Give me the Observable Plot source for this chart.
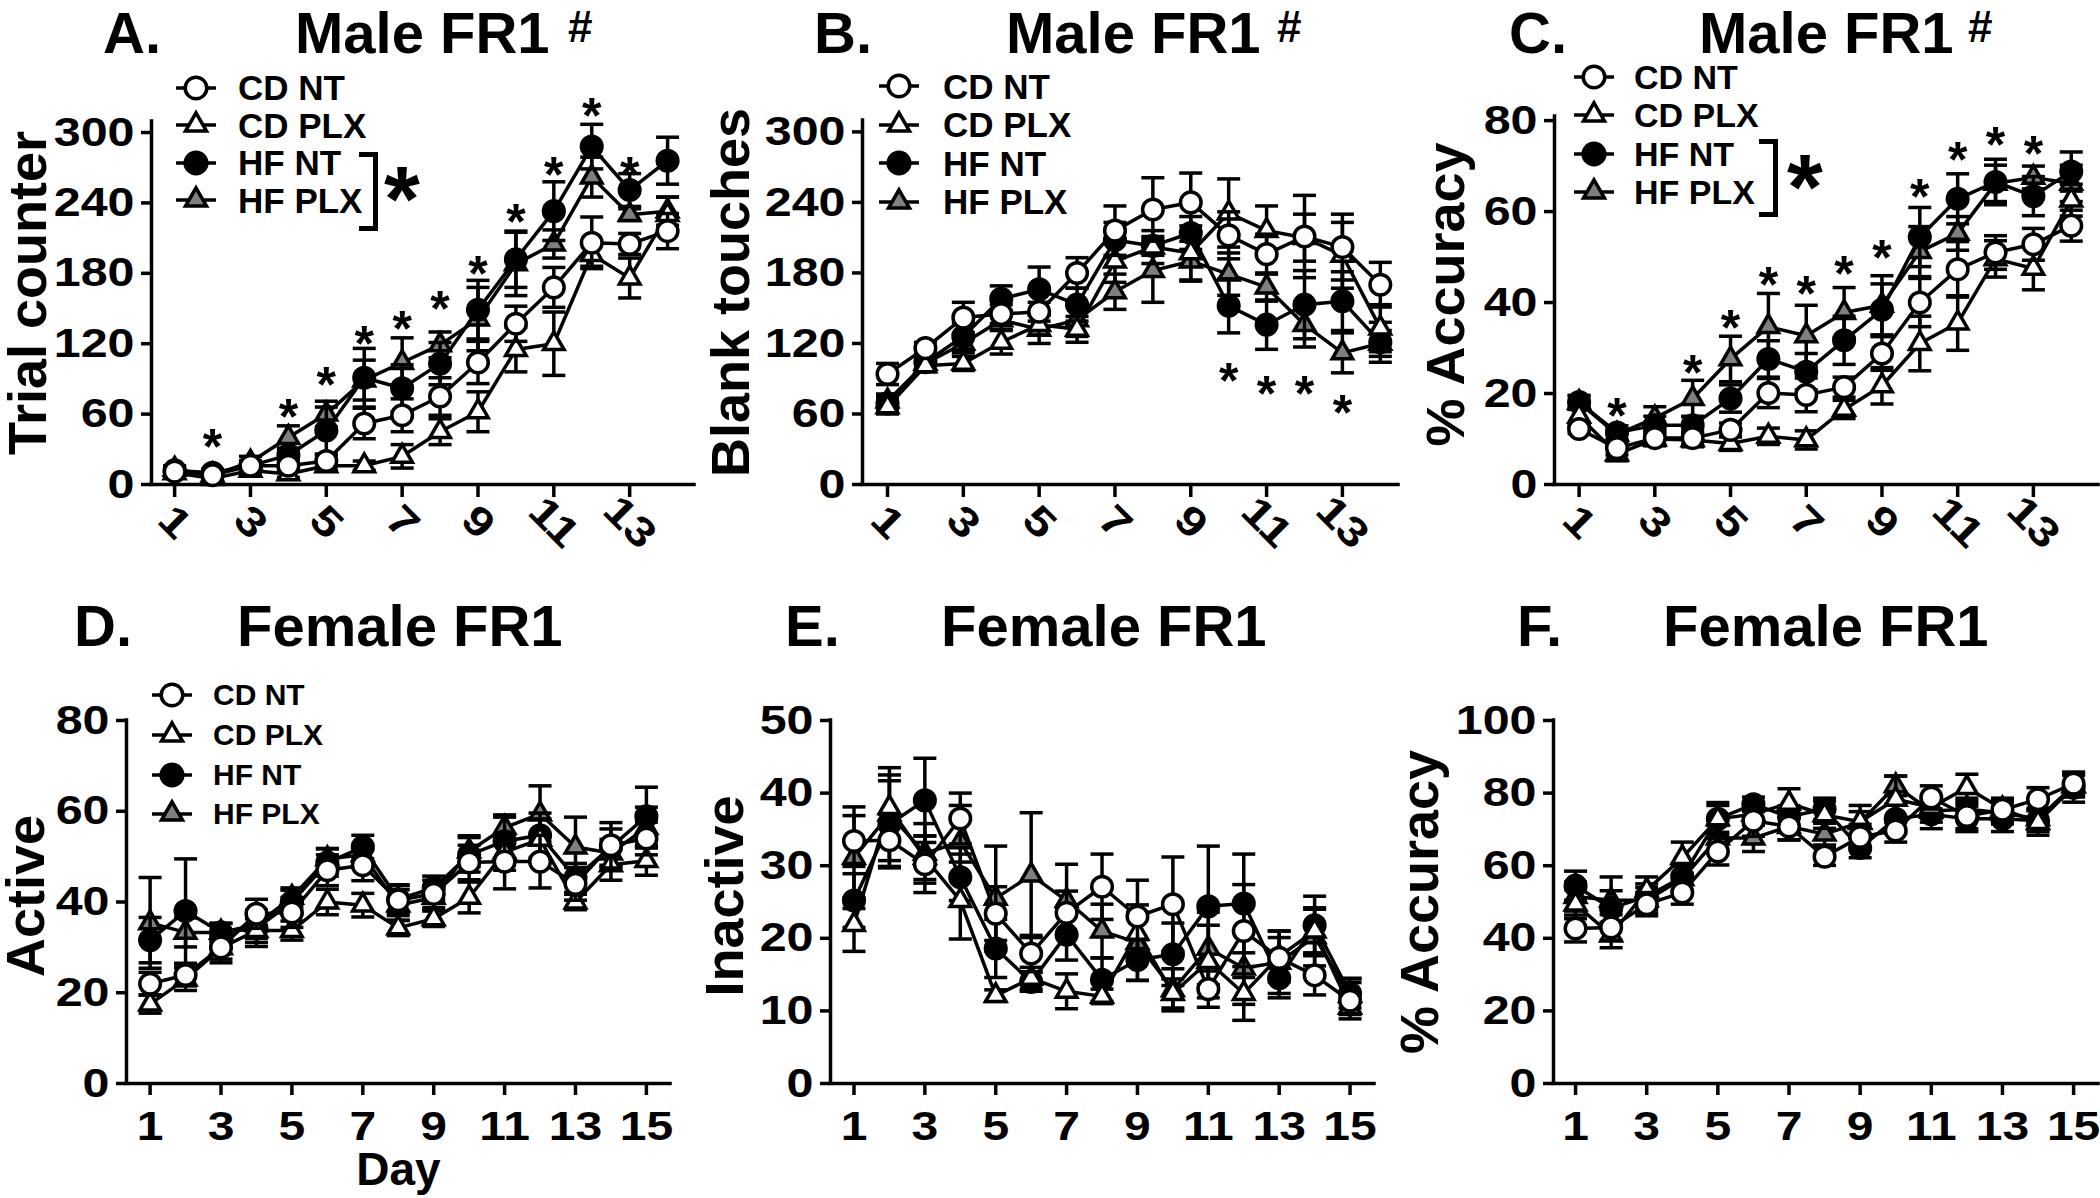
<!DOCTYPE html>
<html>
<head>
<meta charset="utf-8">
<script src="https://cdn.jsdelivr.net/npm/d3@7"></script>
<script src="https://cdn.jsdelivr.net/npm/@observablehq/plot@0.6"></script>
<style>
  body { margin: 0; background: #fff; }
  #fig { position: relative; width: 2100px; height: 1198px; background: #fff; overflow: hidden;
         font-family: "Liberation Sans", Arial, Helvetica, sans-serif; font-weight: bold; color: #000; }
  .abs { position: absolute; white-space: nowrap; }
  .panel { position: absolute; }
  .panel svg { overflow: visible; }
</style>
</head>
<body>
<div id="fig"></div>
<script>
// ---------- categories ----------
const groups = ["CD NT", "CD PLX", "HF NT", "HF PLX"];
const maleDays = [1, 2, 3, 4, 5, 6, 7, 8, 9, 10, 11, 12, 13, 14];
const femaleDays = [1, 2, 3, 4, 5, 6, 7, 8, 9, 10, 11, 12, 13, 14, 15];
const maleTickDays = [1, 3, 5, 7, 9, 11, 13];
const femaleTickDays = [1, 3, 5, 7, 9, 11, 13, 15];

// ---------- A. Male FR1: Trial counter (rows: CD NT, CD PLX, HF NT, HF PLX) ----------
const trialMean = [
  [11, 8, 16, 16, 20, 52, 59, 75, 104, 137, 168, 206, 205, 216],
  [10, 5, 12, 9, 16, 16, 24, 45, 62, 115, 120, 196, 176, 230],
  [12, 10, 16, 25, 46, 91, 82, 103, 149, 192, 233, 288, 251, 276],
  [13, 8, 19, 40, 60, 89, 104, 119, 141, 188, 205, 262, 230, 233]
];
const trialSem = [
  [3, 3, 4, 4, 5, 13, 14, 16, 18, 15, 17, 22, 9, 15],
  [2, 2, 3, 3, 4, 4, 10, 11, 17, 19, 27, 10, 17, 15],
  [3, 3, 4, 6, 20, 25, 20, 18, 25, 24, 25, 19, 14, 20],
  [3, 3, 5, 10, 11, 17, 21, 11, 27, 27, 12, 17, 5, 12]
];
const trialStars = [[2, 42], [4, 68], [5, 95], [6, 130], [7, 143], [8, 160], [9, 190], [10, 234], [11, 274], [12, 324], [13, 274]];

// ---------- B. Male FR1: Blank touches ----------
const blankMean = [
  [94, 116, 142, 145, 147, 180, 216, 234, 240, 212, 196, 211, 202, 170],
  [66, 101, 103, 121, 136, 132, 190, 202, 197, 231, 216, 210, 195, 133],
  [69, 104, 126, 158, 166, 153, 208, 203, 214, 152, 136, 153, 156, 121],
  [71, 103, 120, 140, 132, 140, 164, 182, 190, 179, 168, 136, 112, 120]
];
const blankSem = [
  [9, 5, 13, 8, 8, 13, 21, 27, 25, 20, 17, 35, 28, 19],
  [6, 5, 6, 10, 9, 11, 18, 14, 23, 29, 21, 20, 28, 20],
  [6, 6, 12, 11, 19, 14, 15, 8, 14, 23, 21, 29, 25, 17],
  [6, 5, 8, 8, 12, 14, 15, 27, 17, 18, 12, 19, 17, 11]
];
const blankStars = [[10, 98], [11, 87], [12, 87], [13, 71]];

// ---------- C. Male FR1: % Accuracy ----------
const maleAccMean = [
  [12.2, 8.0, 10.2, 10.2, 12.0, 20.1, 19.7, 21.4, 28.8, 40.0, 47.3, 51.0, 52.8, 56.9],
  [15, 6.7, 10, 9.8, 9, 10.6, 9.8, 16.5, 21.7, 31, 35.5, 49.6, 47.5, 62.5],
  [18.1, 11.4, 13, 13, 18.9, 27.6, 24.8, 31.7, 38.4, 54.4, 62.8, 66.5, 63.4, 68.8],
  [18, 11, 14.6, 18.9, 27.6, 34.7, 32.7, 37.8, 39.4, 51.2, 55.2, 66.2, 67.5, 66.2]
];
const maleAccSem = [
  [1, 1.5, 1.5, 1.5, 1.5, 3.2, 3.7, 2.2, 3.7, 5.3, 6.1, 3.7, 3.5, 3.4],
  [2, 1.5, 1.5, 1.5, 1.5, 1.8, 2, 2, 4, 6, 6, 4, 4.7, 3.5],
  [1.5, 1.5, 2, 2, 3, 4, 4, 5.3, 5.7, 6.5, 5.5, 5, 4.3, 4.3],
  [1.5, 1.5, 2.5, 4, 5, 7.3, 6.7, 5.5, 6.5, 5.5, 3.7, 4, 2.5, 4]
];
const maleAccStars = [[2, 17.7], [4, 27.2], [5, 37], [6, 46.5], [7, 44.5], [8, 48.9], [9, 52.4], [10, 65.8], [11, 74], [12, 77.2], [13, 75.3]];

// ---------- D. Female FR1: Active ----------
const activeMean = [
  [22, 23.9, 30, 37.4, 37.7, 47, 48.1, 40.4, 41.8, 48.7, 48.9, 48.9, 44, 52.5, 54],
  [17.5, 23, 29.9, 33.7, 33.7, 40, 39.3, 34.3, 36.3, 41, 51, 53.8, 40, 48.2, 49.1],
  [31.6, 38, 33.3, 34.2, 40, 48.7, 52.1, 40.6, 43.1, 50.4, 53.4, 54.7, 45.3, 52.1, 58.9],
  [35.4, 33.3, 33.3, 35, 41, 49.5, 50.4, 39.3, 41, 51.2, 56.4, 59.4, 52.1, 50.8, 56.4]
];
const activeSem = [
  [2.5, 2.4, 3.4, 3.2, 3.3, 3.4, 3.4, 3.4, 3, 3.8, 6, 5.8, 3.6, 5, 3.6],
  [2, 2.5, 2.5, 2.6, 2.1, 2.8, 2.6, 1.7, 1.7, 3.4, 4, 4.5, 1.7, 3.4, 3.2],
  [5, 11.5, 2, 4, 2.6, 3, 2.6, 3, 2.6, 3.8, 5.3, 4.9, 3.2, 4, 6.4],
  [10, 3.2, 2, 3, 2.1, 2.3, 2.3, 3.4, 2.6, 3.4, 2.8, 6.2, 6.6, 3, 4.5]
];

// ---------- E. Female FR1: Inactive ----------
const inactiveMean = [
  [33.4, 33.5, 30.2, 36.5, 23.4, 17.9, 23.5, 27.1, 23, 24.7, 13, 21, 17.3, 14.9, 11.4],
  [21.9, 38, 31.1, 25.2, 12.1, 14.5, 12.7, 12, 20.7, 12.4, 16.8, 12.4, 17.5, 21, 10.5],
  [25.2, 35.7, 39, 28.4, 18.6, 14, 20.5, 14.3, 17, 17.8, 24.4, 24.8, 14.5, 21.8, 12.4],
  [31.1, 37.1, 31.7, 33.3, 25.5, 28.7, 25.2, 21, 19.4, 12.9, 18.6, 15.9, 16.7, 20.2, 12.1]
];
const inactiveSem = [
  [3.5, 3.6, 3.9, 3.5, 3.7, 2.5, 3, 4.5, 5, 6.5, 2.5, 6.4, 2.8, 2.7, 2.5],
  [3.7, 4.5, 3, 5.3, 0.8, 1.5, 2.4, 1, 2.9, 2, 5, 3.7, 3.5, 3, 1],
  [3.7, 6, 5.8, 3.2, 4, 1.3, 3.5, 3, 2.8, 4.3, 8.3, 6.8, 2.7, 4, 2],
  [7, 6.4, 4.1, 5, 7.2, 8.6, 5, 3.7, 5.2, 2.9, 5, 5, 4.3, 4, 2.4]
];

// ---------- F. Female FR1: % Accuracy ----------
const femaleAccMean = [
  [42.7, 43, 49.4, 52.6, 63.9, 72.4, 70.8, 62.5, 67.9, 69.7, 78.8, 73.7, 75.4, 78.3, 82.6],
  [49.4, 40.9, 53.2, 62.2, 72.9, 74.2, 77.2, 74, 72.1, 78.3, 76.1, 81.5, 75.6, 71.9, 82],
  [54.5, 48.3, 51.5, 56.9, 72.9, 76.9, 73.5, 75.6, 64.9, 72.9, 74.2, 72.9, 72.9, 72.4, 81.5],
  [51.5, 50.5, 50.5, 56.4, 67.6, 67.6, 70.8, 68.7, 71.9, 82, 75, 75.6, 74.5, 72.9, 82]
];
const femaleAccSem = [
  [3.7, 3.5, 3.2, 3.2, 3.7, 4.3, 3.7, 2.4, 3.5, 3.2, 3.2, 3.5, 2.9, 3.2, 3.2],
  [4, 3.5, 3.7, 4.3, 4.5, 3, 4, 3.7, 4.5, 6.4, 3, 3.7, 3, 3.5, 3],
  [4, 4.8, 3.5, 3.7, 3.7, 2, 3, 3, 2.7, 4, 4, 3.5, 3.5, 3, 4],
  [4, 6.4, 3.5, 3.5, 3.5, 3.7, 3.7, 3, 3, 2.7, 3, 3, 3, 3, 3]
];

// ---------- tick labels ----------
const ticksTrial = [0, 60, 120, 180, 240, 300];
const ticksMaleAcc = [0, 20, 40, 60, 80];
const ticksActive = [0, 20, 40, 60, 80];
const ticksInactive = [0, 10, 20, 30, 40, 50];
const ticksFemaleAcc = [0, 20, 40, 60, 80, 100];

// ---------- styling ----------
const SW = 3.5;
const symbolOf = ["circle", "triangle", "circle", "triangle"];
const fillOf = ["white", "white", "black", "#7f7f7f"];
const drawOrder = [3, 2, 1, 0];
const capSymbol = {
  draw(context, size) {
    const w = Math.sqrt(size / Math.PI);
    context.moveTo(-w, 0);
    context.lineTo(w, 0);
  }
};
const fig = document.getElementById("fig");

function tidy(days, means, sems) {
  const rows = [];
  means.forEach((series, gi) => series.forEach((v, di) =>
    rows.push({group: groups[gi], gi, day: days[di], mean: v, sem: sems[gi][di]})));
  return rows;
}

// widen tick-label glyphs (the reference uses a wide bold face)
function widen(svg, selector, s) {
  svg.querySelectorAll(selector).forEach(t => {
    const tr = t.getAttribute("transform");
    if (tr) {
      t.setAttribute("transform", tr + ` scale(${s},1)`);
    } else {
      const x = +(t.getAttribute("x") || 0), y = +(t.getAttribute("y") || 0);
      t.removeAttribute("x"); t.removeAttribute("y");
      t.setAttribute("transform", `translate(${x},${y}) scale(${s},1)`);
    }
  });
}

function panel(cfg) {
  const rows = tidy(cfg.days, cfg.means, cfg.sems);
  const marks = [];
  // axis lines
  marks.push(Plot.ruleY([cfg.yDomain[0]], {x1: cfg.xDomain[0], x2: cfg.xDomain[1], strokeWidth: SW, strokeLinecap: "square"}));
  marks.push(Plot.ruleX([cfg.xDomain[0]], {y1: cfg.yDomain[0], y2: cfg.yDomain[1], strokeWidth: SW, strokeLinecap: "square"}));
  marks.push(Plot.axisY({ticks: cfg.yTicks, tickSize: 10, tickPadding: 7, strokeWidth: SW, fontSize: 41, fontWeight: "bold", label: null}));
  if (cfg.rotate) {
    marks.push(Plot.axisX({ticks: cfg.xTicks, tickSize: 13, tickPadding: 25, tickRotate: 45, textAnchor: "middle", lineAnchor: "middle",
      strokeWidth: SW, fontSize: 41, fontWeight: "bold", label: null}));
  } else {
    marks.push(Plot.axisX({ticks: cfg.xTicks, tickSize: 12, tickPadding: 16, strokeWidth: SW, fontSize: 40, fontWeight: "bold", label: null}));
  }
  for (const gi of drawOrder) {
    const data = rows.filter(d => d.gi === gi);
    marks.push(Plot.ruleX(data, {x: "day", y1: d => d.mean - d.sem, y2: d => d.mean + d.sem, strokeWidth: SW}));
    marks.push(Plot.dot(data, {x: "day", y: d => d.mean + d.sem, symbol: capSymbol, r: 11.5, fill: "none", stroke: "black", strokeWidth: SW}));
    marks.push(Plot.dot(data, {x: "day", y: d => d.mean - d.sem, symbol: capSymbol, r: 11.5, fill: "none", stroke: "black", strokeWidth: SW}));
    marks.push(Plot.line(data, {x: "day", y: "mean", stroke: "black", strokeWidth: SW}));
    marks.push(Plot.dot(data, {x: "day", y: "mean", symbol: symbolOf[gi], r: symbolOf[gi] === "circle" ? 10.3 : 7.6,
      fill: fillOf[gi], stroke: "black", strokeWidth: SW}));
  }
  if (cfg.stars) {
    marks.push(Plot.text(cfg.stars, {x: d => d[0], y: d => d[1], text: () => "*", fontSize: 50, fontWeight: "bold", dy: 13}));
  }
  marks.push(Plot.text([cfg.ylabel], {text: d => d, frameAnchor: "left", dx: cfg.ylabelDx, dy: cfg.ylabelDy, rotate: -90,
    fontSize: 54, fontWeight: "bold", textAnchor: "middle", lineAnchor: "middle"}));
  if (cfg.xlabel) {
    marks.push(Plot.text([cfg.xlabel], {text: d => d, frameAnchor: "bottom", dy: 87, fontSize: 46, fontWeight: "bold", lineAnchor: "middle"}));
  }
  const svg = Plot.plot({
    width: cfg.width, height: cfg.height,
    marginLeft: cfg.ml, marginRight: cfg.mr, marginTop: cfg.mt, marginBottom: cfg.mb,
    x: {domain: cfg.xDomain},
    y: {domain: cfg.yDomain},
    style: {fontFamily: "'Liberation Sans', Arial, Helvetica, sans-serif", color: "black", background: "transparent", overflow: "visible"},
    marks
  });
  widen(svg, 'g[aria-label="y-axis tick label"] text', 1.18);
  widen(svg, 'g[aria-label="x-axis tick label"] text', 1.2);
  const wrap = document.createElement("div");
  wrap.className = "panel";
  wrap.style.left = cfg.left + "px";
  wrap.style.top = cfg.top + "px";
  wrap.appendChild(svg);
  fig.appendChild(wrap);
}

function textAt(str, left, baseline, fs) {
  const el = document.createElement("div");
  el.className = "abs";
  el.textContent = str;
  el.style.fontSize = fs + "px";
  el.style.lineHeight = fs + "px";
  el.style.left = left + "px";
  el.style.top = (baseline - 0.8465 * fs) + "px";
  fig.appendChild(el);
  return el;
}

function title(letter, letterX, main, mainX, hashX, baseline) {
  textAt(letter, letterX, baseline, 58);
  textAt(main, mainX, baseline, 58);
  if (hashX != null) textAt("#", hashX, baseline - 11, 44);
}

const svgNS = "http://www.w3.org/2000/svg";
function legend(rowY, symX, textX, fs) {
  groups.forEach((g, gi) => {
    const s = document.createElementNS(svgNS, "svg");
    s.setAttribute("width", 48);
    s.setAttribute("height", 34);
    s.style.position = "absolute";
    s.style.left = (symX - 24) + "px";
    s.style.top = (rowY[gi] - 17) + "px";
    const ln = document.createElementNS(svgNS, "line");
    ln.setAttribute("x1", 4); ln.setAttribute("x2", 44); ln.setAttribute("y1", 17); ln.setAttribute("y2", 17);
    ln.setAttribute("stroke", "black"); ln.setAttribute("stroke-width", SW);
    s.appendChild(ln);
    const p = document.createElementNS(svgNS, "path");
    const r = symbolOf[gi] === "circle" ? 10.8 : 7.8;
    const type = symbolOf[gi] === "circle" ? d3.symbolCircle : d3.symbolTriangle;
    p.setAttribute("d", d3.symbol(type, Math.PI * r * r)());
    p.setAttribute("transform", "translate(24,17)");
    p.setAttribute("fill", fillOf[gi]);
    p.setAttribute("stroke", "black");
    p.setAttribute("stroke-width", SW);
    s.appendChild(p);
    fig.appendChild(s);
    const t = document.createElement("div");
    t.className = "abs";
    t.textContent = g;
    t.style.fontSize = fs + "px";
    t.style.lineHeight = fs + "px";
    t.style.left = textX + "px";
    t.style.top = (rowY[gi] - 0.4885 * fs) + "px";
    fig.appendChild(t);
  });
}

function bracket(x1, x2, y1, y2, starX, starY) {
  const b = document.createElement("div");
  b.style.position = "absolute";
  b.style.left = x1 + "px";
  b.style.top = y1 + "px";
  b.style.width = (x2 - x1 - 5) + "px";
  b.style.height = (y2 - y1 - 10) + "px";
  b.style.border = "5px solid black";
  b.style.borderLeft = "none";
  fig.appendChild(b);
  const fs = 92;
  const st = document.createElement("div");
  st.className = "abs";
  st.textContent = "*";
  st.style.fontSize = fs + "px";
  st.style.lineHeight = fs + "px";
  st.style.left = (starX - 0.195 * fs) + "px";
  st.style.top = (starY - 0.2665 * fs) + "px";
  fig.appendChild(st);
}

// ---------- panels ----------
panel({left: 0, top: 90, width: 700, height: 470, ml: 151, mr: 6, mt: 31, mb: 76,
  days: maleDays, means: trialMean, sems: trialSem, stars: trialStars,
  xDomain: [0.39, 14.71], yDomain: [0, 309.4], yTicks: ticksTrial, xTicks: maleTickDays, rotate: true,
  ylabel: "Trial counter", ylabelDx: -123, ylabelDy: -10});
panel({left: 700, top: 90, width: 700, height: 470, ml: 162, mr: 2, mt: 30, mb: 76,
  days: maleDays, means: blankMean, sems: blankSem, stars: blankStars,
  xDomain: [0.34, 14.48], yDomain: [0, 309.7], yTicks: ticksTrial, xTicks: maleTickDays, rotate: true,
  ylabel: "Blank touches", ylabelDx: -131, ylabelDy: -10});
panel({left: 1400, top: 90, width: 700, height: 470, ml: 154, mr: 2, mt: 26, mb: 76,
  days: maleDays, means: maleAccMean, sems: maleAccSem, stars: maleAccStars,
  xDomain: [0.35, 14.72], yDomain: [0, 80.9], yTicks: ticksMaleAcc, xTicks: maleTickDays, rotate: true,
  ylabel: "% Accuracy", ylabelDx: -108, ylabelDy: -6});
panel({left: 0, top: 600, width: 700, height: 598, ml: 126, mr: 30, mt: 120, mb: 115,
  days: femaleDays, means: activeMean, sems: activeSem,
  xDomain: [0.334, 15.68], yDomain: [0, 80], yTicks: ticksActive, xTicks: femaleTickDays, rotate: false,
  ylabel: "Active", ylabelDx: -100, ylabelDy: -6, xlabel: "Day"});
panel({left: 700, top: 600, width: 700, height: 598, ml: 130, mr: 26, mt: 120, mb: 115,
  days: femaleDays, means: inactiveMean, sems: inactiveSem,
  xDomain: [0.337, 15.69], yDomain: [0, 50], yTicks: ticksInactive, xTicks: femaleTickDays, rotate: false,
  ylabel: "Inactive", ylabelDx: -105, ylabelDy: -6});
panel({left: 1400, top: 600, width: 700, height: 598, ml: 153, mr: 2, mt: 120, mb: 115,
  days: femaleDays, means: femaleAccMean, sems: femaleAccSem,
  xDomain: [0.38, 15.7], yDomain: [0, 100], yTicks: ticksFemaleAcc, xTicks: femaleTickDays, rotate: false,
  ylabel: "% Accuracy", ylabelDx: -133, ylabelDy: 0});

// ---------- titles ----------
title("A.", 103, "Male FR1", 295, 568, 53);
title("B.", 814, "Male FR1", 1006, 1277, 53);
title("C.", 1509, "Male FR1", 1699, 1968, 53);
title("D.", 74, "Female FR1", 237, null, 646);
title("E.", 785, "Female FR1", 941, null, 646);
title("F.", 1517, "Female FR1", 1663, null, 646);

// ---------- legends ----------
legend([87.5, 125, 162.5, 200], 196, 238, 35);
bracket(359, 378, 151.8, 231, 402, 178);
legend([86, 124.5, 163, 201.5], 899, 943, 35);
legend([77, 115, 154, 192], 1594, 1634, 34);
bracket(1759, 1778, 139, 216.6, 1805, 166);
legend([695, 735, 775, 814], 172, 213, 30);
</script>
</body>
</html>
